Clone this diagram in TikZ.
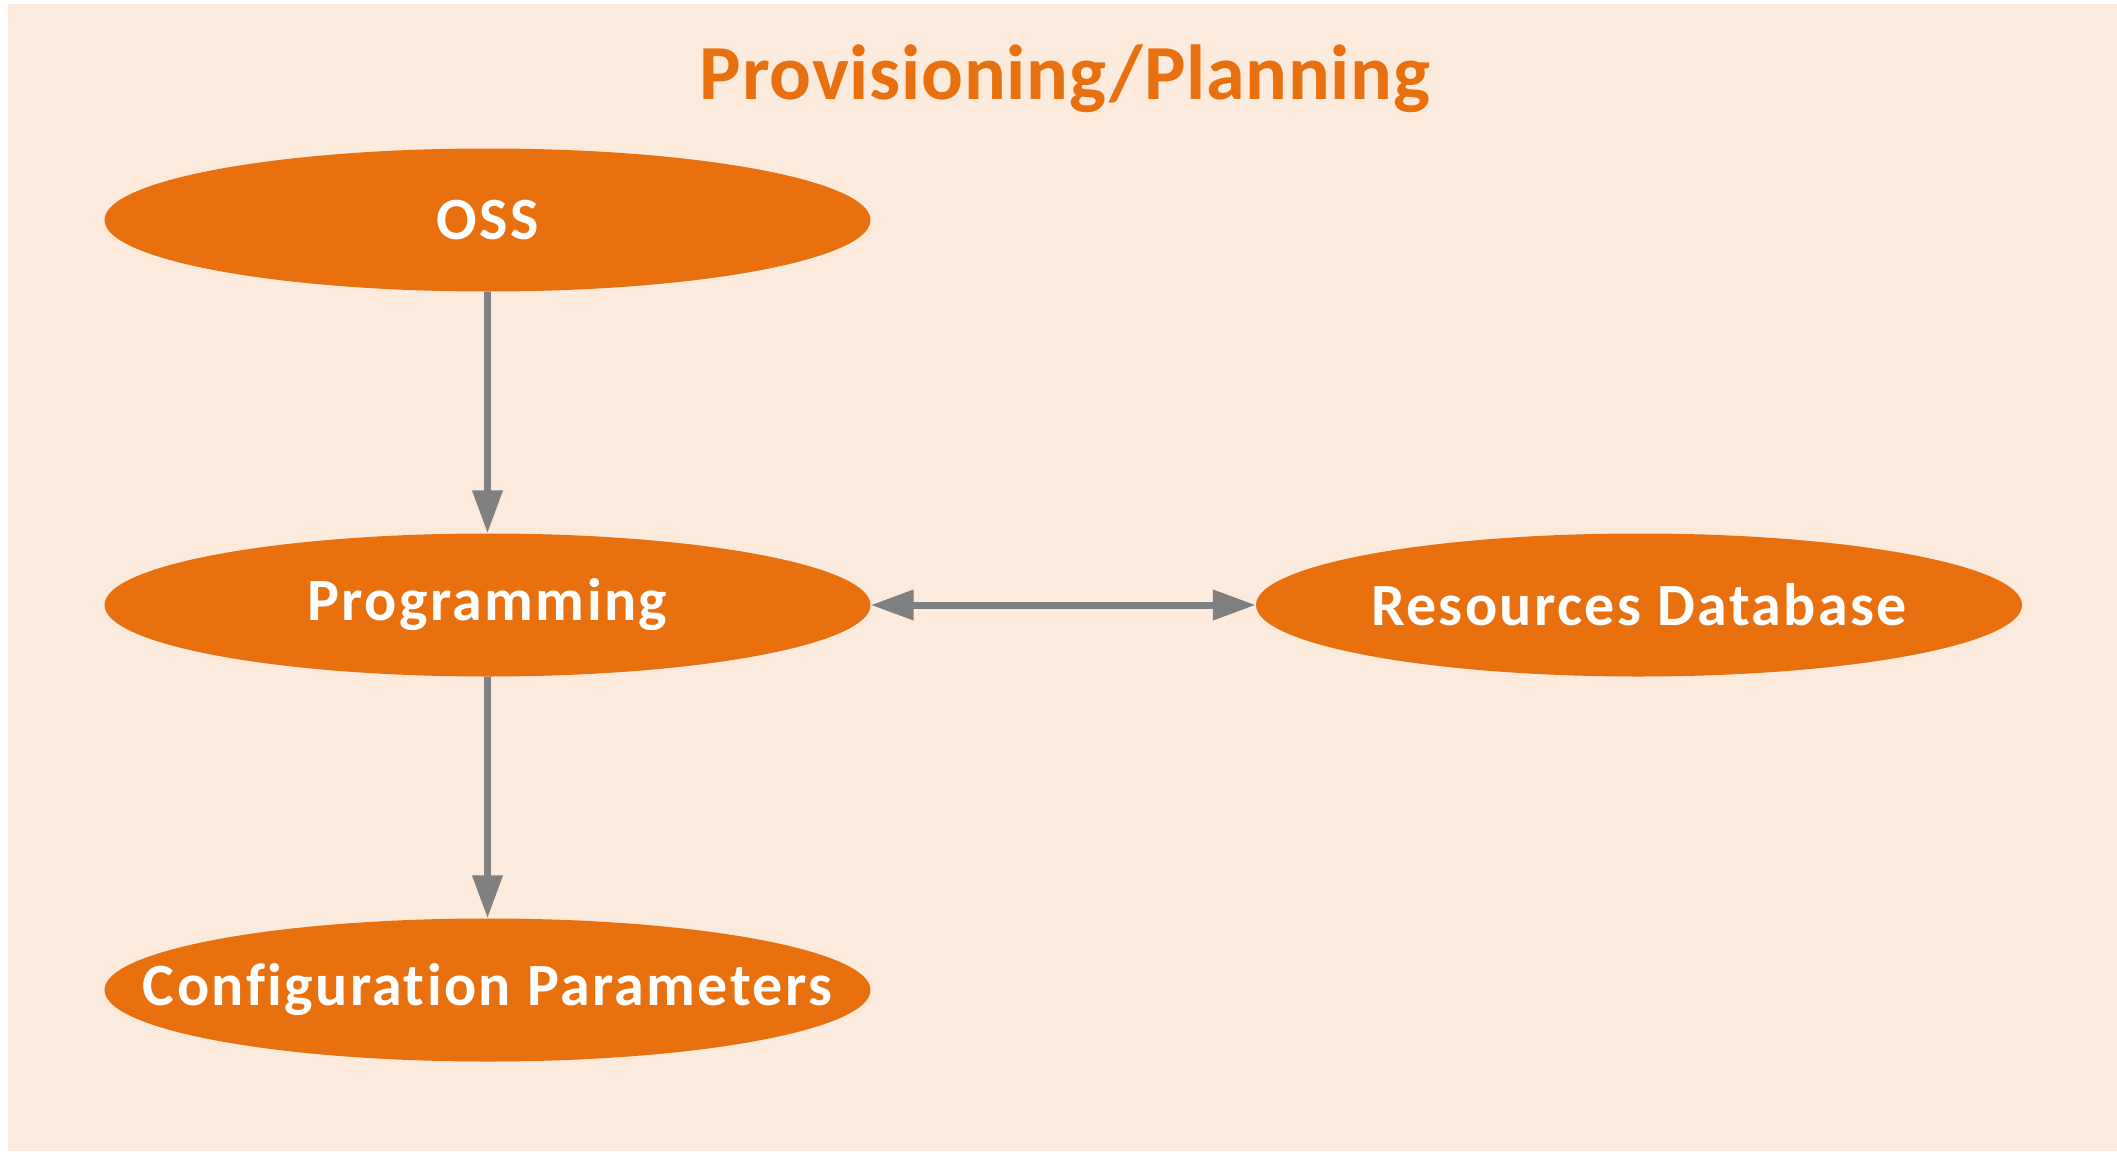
\documentclass[tikz,border=0pt]{standalone}
\usepackage{fontspec}
\setmainfont{Carlito}[Ligatures={NoCommon}]
\usetikzlibrary{arrows.meta,shapes.geometric}
\definecolor{bgfill}{HTML}{FCEADD}
\definecolor{orfill}{HTML}{E8700E}
\definecolor{argray}{HTML}{808080}
\tikzset{
  blob/.style={ellipse, fill=orfill, minimum width=766pt, minimum height=143pt, inner sep=0pt},
  blobtext/.style={text=white, font=\fontsize{60}{70}\selectfont\bfseries\addfontfeatures{LetterSpace=4}},
  conn/.style={draw=argray, line width=7pt, -{Triangle[length=43pt,width=29pt]}},
  bconn/.style={draw=argray, line width=7pt, {Triangle[length=43pt,width=29pt]}-{Triangle[length=43pt,width=29pt]}}
}
\begin{document}
\begin{tikzpicture}[x=1pt,y=-1pt]
\useasboundingbox (0,0) rectangle (2117,1151);
\fill[bgfill] (8,4) rectangle (2117,1151);
\node[text=orfill, font=\fontsize{78}{90}\selectfont\bfseries\addfontfeatures{LetterSpace=1}] (title) at (1065,79) {Provisioning/Planning};
\node[blob] (oss) at (487.5,220) {};
\node[blobtext] (osst) at (oss.center) {OSS};
\node[blob] (prog) at (487.5,605) {};
\node[blobtext] (progt) at (prog.center) {Programming};
\node[blob] (conf) at (487.5,990) {};
\node[blobtext] (conft) at (conf.center) {Configuration Parameters};
\node[blob] (res) at (1639,605) {};
\node[blobtext] (rest) at (res.center) {Resources Database};
\draw[conn] (oss.south) -- (prog.north);
\draw[conn] (prog.south) -- (conf.north);
\draw[bconn] (prog.east) -- (res.west);
\end{tikzpicture}
\end{document}
